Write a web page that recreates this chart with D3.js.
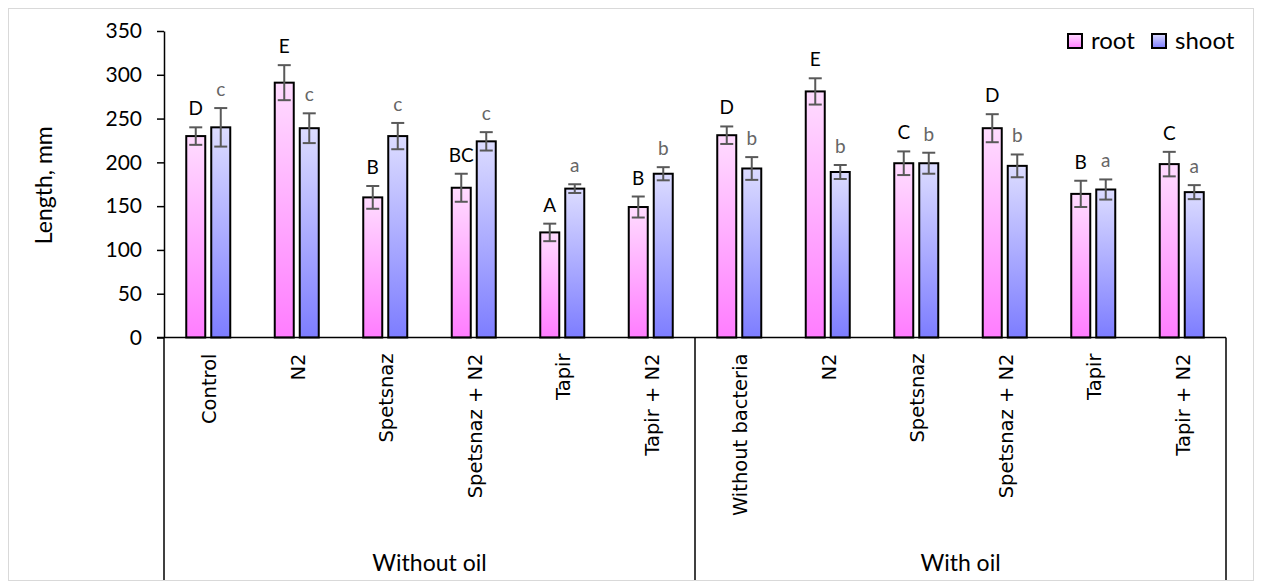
<!DOCTYPE html>
<html>
<head>
<meta charset="utf-8">
<script src="https://cdn.jsdelivr.net/npm/d3@7"></script>
<style>
  html, body { margin: 0; padding: 0; background: #fff; }
  svg { display: block; }
</style>
</head>
<body>
<svg id="chart" width="1261" height="588"></svg>
<script>
// Root and shoot length by treatment, grouped by oil contamination
const groups = ["Without oil", "With oil"];
const categories = ["Control", "N2", "Spetsnaz", "Spetsnaz + N2", "Tapir", "Tapir + N2",
                    "Without bacteria", "N2", "Spetsnaz", "Spetsnaz + N2", "Tapir", "Tapir + N2"];
const categoryGroup = [0, 0, 0, 0, 0, 0, 1, 1, 1, 1, 1, 1];
const seriesNames = ["root", "shoot"];
const rootMean  = [230, 291, 160, 171, 120, 149, 231, 281, 199, 239, 164, 198];
const rootErr   = [10, 20, 13, 16, 10, 12, 10, 15, 13.5, 16, 15, 14];
const shootMean = [240, 239, 230, 224, 170, 187, 193, 189, 199, 196, 169, 166];
const shootErr  = [22, 17, 15, 10.5, 5, 7.5, 13, 8, 12, 13, 11.5, 8];
const rootLetters  = ["D", "E", "B", "BC", "A", "B", "D", "E", "C", "D", "B", "C"];
const shootLetters = ["c", "c", "c", "c", "a", "b", "b", "b", "b", "b", "a", "a"];
const yTicks = [0, 50, 100, 150, 200, 250, 300, 350];

const svg = d3.select("#chart");
const plot = { left: 164, right: 1226, top: 31, bottom: 337.5, floor: 580 };
const calibri = "Lato, 'Open Sans', sans-serif";

// outer frame
svg.append("rect")
  .attr("x", 8.5).attr("y", 8.5).attr("width", 1245).attr("height", 572)
  .attr("fill", "#fff").attr("stroke", "#d9d9d9").attr("stroke-width", 1);

// gradients
const defs = svg.append("defs");
const grads = {
  root:  ["#ffdcff", "#ff7dff"],
  shoot: ["#dcdcff", "#7d7dff"]
};
seriesNames.forEach(s => {
  const g = defs.append("linearGradient").attr("id", "grad-" + s)
    .attr("x1", 0).attr("y1", 0).attr("x2", 0).attr("y2", 1);
  g.append("stop").attr("offset", "0%").attr("stop-color", grads[s][0]);
  g.append("stop").attr("offset", "100%").attr("stop-color", grads[s][1]);
});

const keys = categories.map((c, i) => i);
const x0 = d3.scaleBand().domain(keys).range([plot.left, plot.right]).padding(0);
const bw = x0.bandwidth();
const pairWidth = 44;
const x1 = d3.scaleBand().domain(seriesNames)
  .range([(bw - pairWidth) / 2, (bw + pairWidth) / 2]).paddingInner(0.24);
const y = d3.scaleLinear().domain([0, 350]).range([plot.bottom, plot.top]);

// y axis
const yAxis = svg.append("g")
  .attr("transform", `translate(${plot.left},0)`)
  .call(d3.axisLeft(y).tickValues(yTicks).tickSize(7).tickPadding(15).tickSizeOuter(0));
yAxis.select(".domain").attr("stroke", "#000").attr("stroke-width", 1.5);
yAxis.selectAll(".tick line").attr("stroke", "#000").attr("stroke-width", 1.5);
yAxis.selectAll(".tick text")
  .attr("font-family", calibri).attr("font-size", 21).attr("fill", "#000");

// y axis title
svg.append("text")
  .attr("transform", `translate(52,${(plot.top + plot.bottom) / 2 + 1}) rotate(-90)`)
  .attr("text-anchor", "middle")
  .attr("font-family", calibri).attr("font-size", 23).attr("fill", "#000")
  .text("Length, mm");

// data rows
const rows = keys.map(i => ({
  i,
  values: [
    { s: "root", v: rootMean[i], e: rootErr[i], label: rootLetters[i] },
    { s: "shoot", v: shootMean[i], e: shootErr[i], label: shootLetters[i] }
  ]
}));

const cat = svg.append("g").selectAll("g").data(rows).join("g")
  .attr("transform", d => `translate(${x0(d.i)},0)`);

// bars
cat.selectAll("rect").data(d => d.values).join("rect")
  .attr("x", d => x1(d.s))
  .attr("y", d => y(d.v))
  .attr("width", x1.bandwidth())
  .attr("height", d => y(0) - y(d.v))
  .attr("fill", d => `url(#grad-${d.s})`)
  .attr("stroke", "#000").attr("stroke-width", 2);

// error bars
const capHalf = 6.5;
const eb = cat.selectAll("g.err").data(d => d.values).join("g").attr("class", "err")
  .attr("stroke", "#595959").attr("stroke-width", 2);
eb.append("line")
  .attr("x1", d => x1(d.s) + x1.bandwidth() / 2).attr("x2", d => x1(d.s) + x1.bandwidth() / 2)
  .attr("y1", d => y(d.v + d.e)).attr("y2", d => y(d.v - d.e));
eb.append("line")
  .attr("x1", d => x1(d.s) + x1.bandwidth() / 2 - capHalf).attr("x2", d => x1(d.s) + x1.bandwidth() / 2 + capHalf)
  .attr("y1", d => y(d.v + d.e)).attr("y2", d => y(d.v + d.e));
eb.append("line")
  .attr("x1", d => x1(d.s) + x1.bandwidth() / 2 - capHalf).attr("x2", d => x1(d.s) + x1.bandwidth() / 2 + capHalf)
  .attr("y1", d => y(d.v - d.e)).attr("y2", d => y(d.v - d.e));

// significance letters
cat.selectAll("text.sig").data(d => d.values).join("text").attr("class", "sig")
  .attr("x", d => x1(d.s) + x1.bandwidth() / 2)
  .attr("y", d => y(d.v + d.e) - 12)
  .attr("text-anchor", "middle")
  .attr("font-family", calibri).attr("font-size", 19)
  .attr("fill", d => d.s === "root" ? "#000" : "#666")
  .text(d => d.label);

// category axis: baseline and group separators
const axisG = svg.append("g").attr("stroke", "#000").attr("stroke-width", 1.5);
axisG.append("line")
  .attr("x1", plot.left - 7).attr("x2", plot.right)
  .attr("y1", plot.bottom).attr("y2", plot.bottom);
const groupBounds = groups.map((g, gi) => {
  const idx = keys.filter(i => categoryGroup[i] === gi);
  return { name: g, x0: x0(idx[0]), x1: x0(idx[idx.length - 1]) + bw };
});
const sepX = [groupBounds[0].x0, ...groupBounds.map(b => b.x1)];
axisG.selectAll("line.sep").data(sepX).join("line").attr("class", "sep")
  .attr("x1", d => d).attr("x2", d => d)
  .attr("y1", plot.bottom).attr("y2", plot.floor);

// category labels (rotated)
svg.append("g").selectAll("text").data(keys).join("text")
  .attr("transform", i => `translate(${x0(i) + bw / 2 + 8},${plot.bottom + 16}) rotate(-90)`)
  .attr("text-anchor", "end")
  .attr("font-family", "'DejaVu Sans', sans-serif").attr("font-size", 19.5).attr("fill", "#000")
  .text(i => categories[i]);

// group labels
svg.append("g").selectAll("text").data(groupBounds).join("text")
  .attr("x", d => (d.x0 + d.x1) / 2).attr("y", 571)
  .attr("text-anchor", "middle")
  .attr("font-family", calibri).attr("font-size", 23).attr("fill", "#000")
  .text(d => d.name);

// legend
const legendItems = [
  { s: "root", x: 1067 },
  { s: "shoot", x: 1151 }
];
const lg = svg.append("g").selectAll("g").data(legendItems).join("g")
  .attr("transform", d => `translate(${d.x},33)`);
lg.append("rect").attr("x", 1).attr("y", 1).attr("width", 14).attr("height", 14)
  .attr("fill", d => `url(#grad-${d.s})`).attr("stroke", "#000").attr("stroke-width", 2);
lg.append("text").attr("x", 24).attr("y", 16)
  .attr("font-family", calibri).attr("font-size", 24).attr("fill", "#000")
  .text(d => d.s);
</script>
</body>
</html>
